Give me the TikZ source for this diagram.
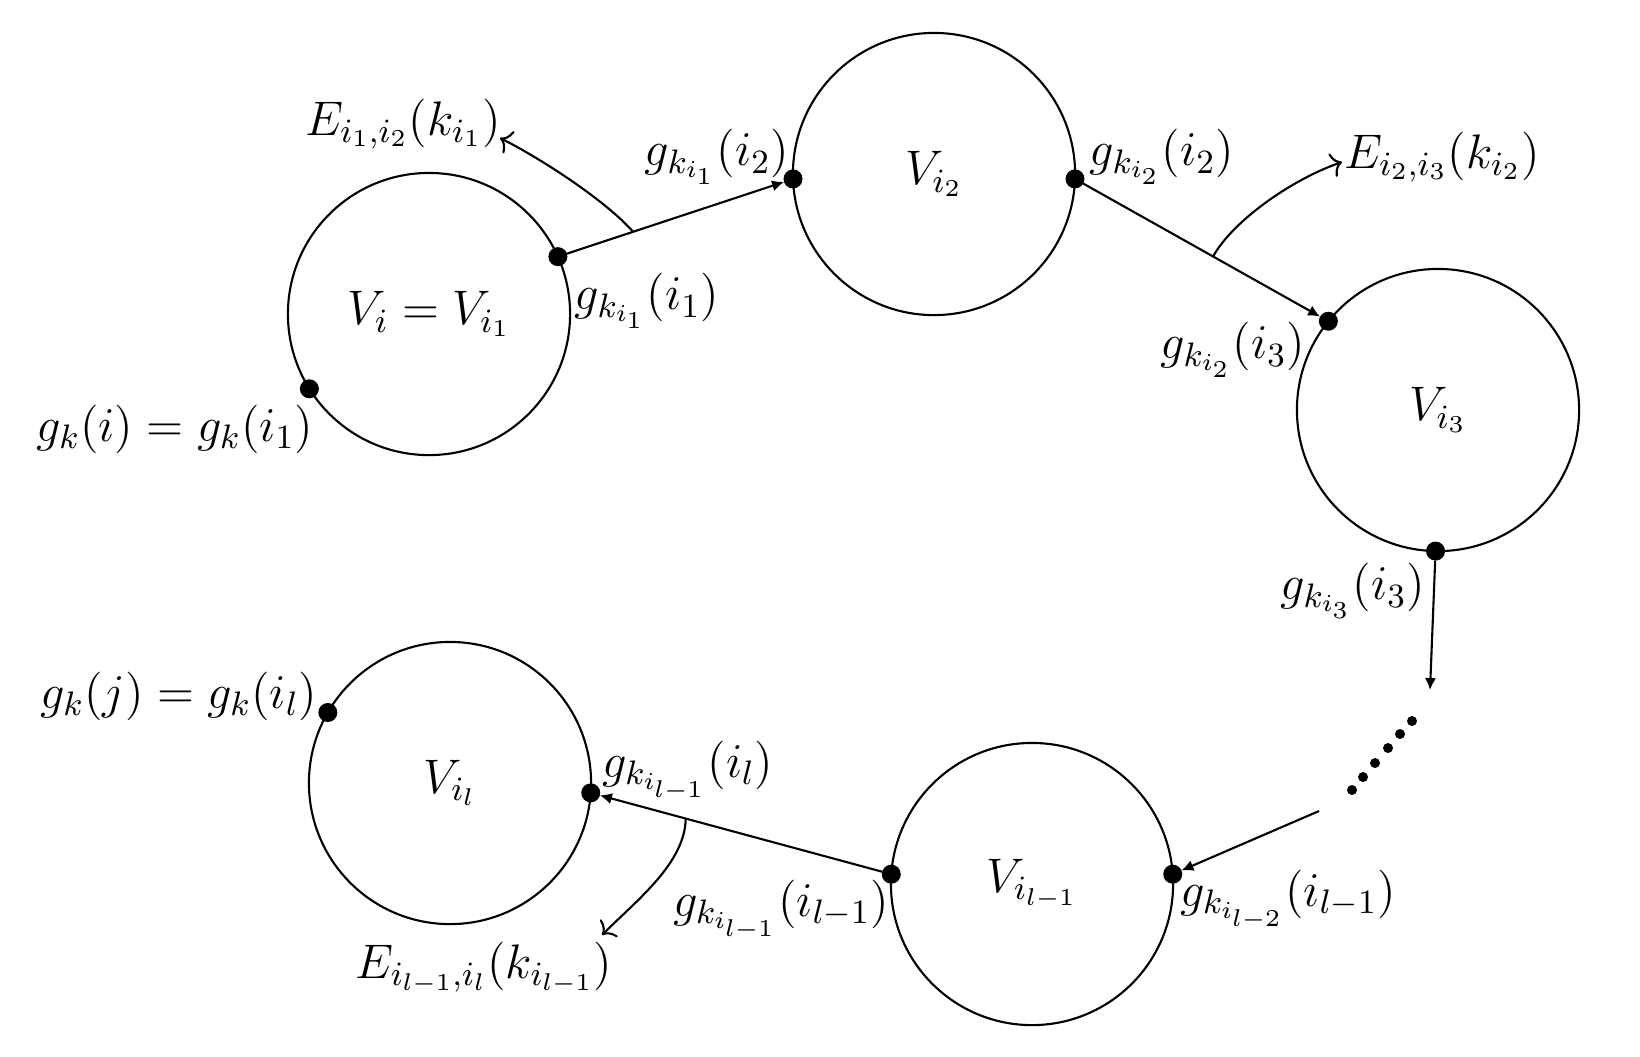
\RequirePackage{fix-cm}
\documentclass[tikz,border=0pt]{standalone}
\usetikzlibrary{arrows.meta,calc}
\begin{document}
\begin{tikzpicture}[x=0.01cm,y=-0.01cm,
  lbl/.style={font=\fontsize{13.8}{16.5}\selectfont, inner sep=0pt},
  vert/.style={draw, circle, minimum size=2.82cm, inner sep=0pt, outer sep=0pt, line width=0.6pt, font=\fontsize{13.8}{16.5}\selectfont},
  pt/.style={circle, fill=black, minimum size=0.19cm, inner sep=0pt, outer sep=0pt},
  sm/.style={circle, fill=black, minimum size=0.1cm, inner sep=0pt, outer sep=0pt},
  main/.style={line width=0.6pt, -{Latex[length=3.4pt,width=3.2pt]}},
  bendarr/.style={line width=0.6pt, -{To[length=3pt,width=7pt]}}]
\useasboundingbox (0,0) rectangle (1640,1056);
% vertices
\node[vert] (c1) at (429,314) {$V_i = V_{i_1}$};
\node[vert] (c2) at (934,174) {$V_{i_2}$};
\node[vert] (c3) at (1438,410) {$V_{i_3}$};
\node[vert] (c4) at (450,783) {$V_{i_l}$};
\node[vert] (c5) at (1032,884) {$V_{i_{l-1}}$};
% points on circles
\node[pt] (p11) at (c1.24) {};
\node[pt] (p12) at (c1.212) {};
\node[pt] (p21) at (c2.182) {};
\node[pt] (p22) at (c2.-2) {};
\node[pt] (p31) at (c3.141) {};
\node[pt] (p32) at (c3.-91) {};
\node[pt] (p41) at (c4.150) {};
\node[pt] (p42) at (c4.-4) {};
\node[pt] (p51) at (c5.176) {};
\node[pt] (p52) at (c5.4) {};
% main arrows
\draw[main] (p11) -- (p21);
\draw[main] (p22) -- (p31);
\coordinate (q1) at (1430,690);
\draw[main] (p32) -- (q1);
\coordinate (q2) at (1319,811);
\draw[main] (q2) -- (p52);
\draw[main] (p51) -- (p42);
% dots
\node[sm] (d1) at (1352,790) {};
\node[sm] (d2) at (1363,777) {};
\node[sm] (d3) at (1375,763) {};
\node[sm] (d4) at (1388,748) {};
\node[sm] (d5) at (1400,734) {};
\node[sm] (d6) at (1412,721) {};
% curved arrows
\coordinate (b1) at ($(p11)!0.32!(p21)$);
\coordinate (e1) at (500,138);
\draw[bendarr] (b1) .. controls (605,200) and (540,158) .. (e1);
\coordinate (b2) at ($(p22)!0.545!(p31)$);
\coordinate (e2) at (1342,162);
\draw[bendarr] (b2) .. controls (1232,222) and (1290,180) .. (e2);
\coordinate (b3) at ($(p51)!0.684!(p42)$);
\coordinate (e3) at (602,935);
\draw[bendarr] (b3) .. controls (685,863) and (637,900) .. (e3);
% labels
\node[lbl] (l1) at (403,124) {$E_{i_1,i_2}(k_{i_1})$};
\node[lbl] (l2) at (717,157) {$g_{k_{i_1}}(i_2)$};
\node[lbl] (l3) at (647,301) {$g_{k_{i_1}}(i_1)$};
\node[lbl] (l4) at (175,429) {$g_k(i) = g_k(i_1)$};
\node[lbl] (l5) at (1162,157) {$g_{k_{i_2}}(i_2)$};
\node[lbl] (l6) at (1442,157) {$E_{i_2,i_3}(k_{i_2})$};
\node[lbl] (l7) at (1233,350) {$g_{k_{i_2}}(i_3)$};
\node[lbl] (l8) at (1353,591) {$g_{k_{i_3}}(i_3)$};
\node[lbl] (l9) at (179,696) {$g_k(j) = g_k(i_l)$};
\node[lbl] (l10) at (688,771) {$g_{k_{i_{l-1}}}(i_l)$};
\node[lbl] (l11) at (781,910) {$g_{k_{i_{l-1}}}(i_{l-1})$};
\node[lbl] (l12) at (1288,900) {$g_{k_{i_{l-2}}}(i_{l-1})$};
\node[lbl] (l13) at (484,968) {$E_{i_{l-1},i_l}(k_{i_{l-1}})$};
\end{tikzpicture}
\end{document}
